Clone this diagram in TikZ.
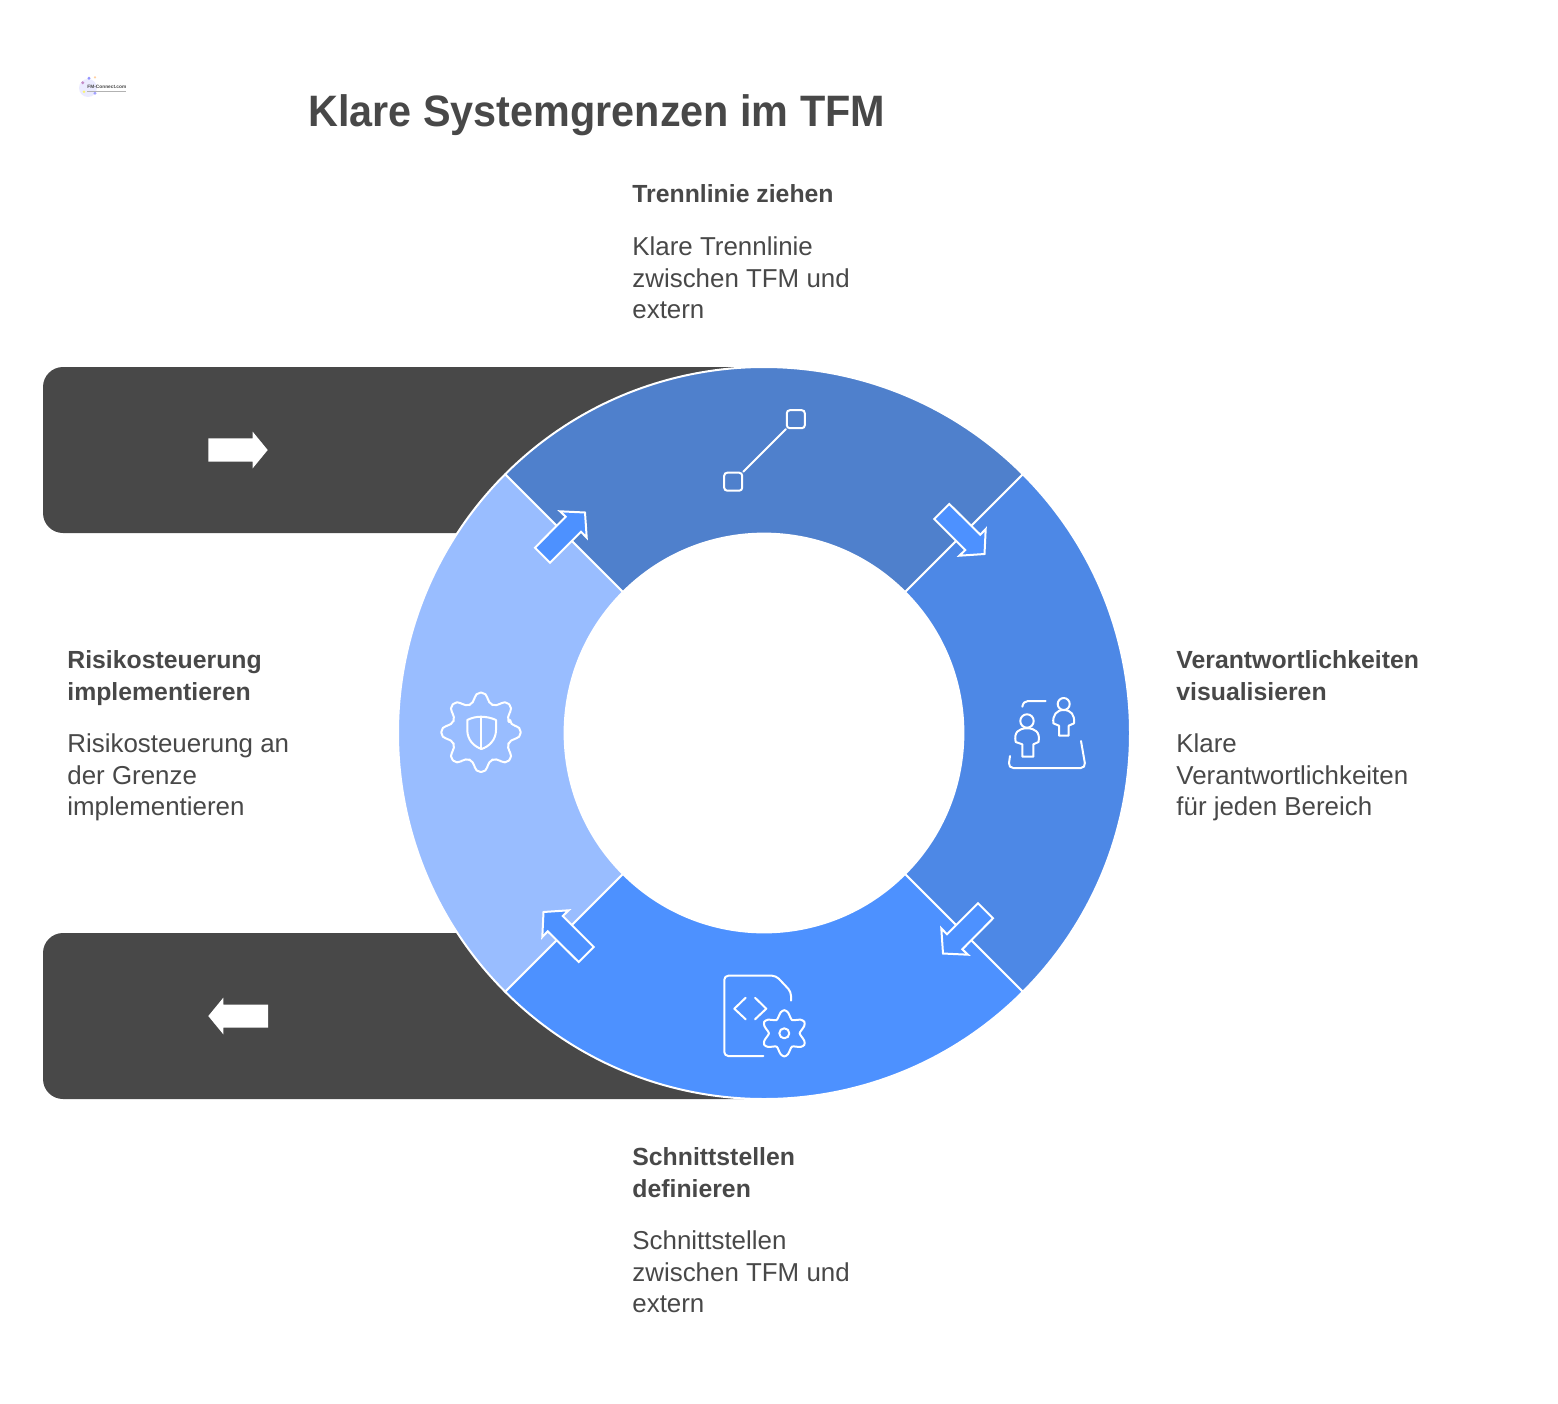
\documentclass[tikz,border=0pt]{standalone}
\usepackage{fontspec}
\setmainfont{Liberation Sans}
\newfontfamily\titlefont[FakeStretch=0.94,BoldFont={Liberation Sans Bold}]{Liberation Sans}
\definecolor{ink}{HTML}{484848}
\definecolor{bar}{HTML}{484848}
\definecolor{segA}{HTML}{4F80CC}
\definecolor{segB}{HTML}{4D88E6}
\definecolor{segC}{HTML}{4D91FF}
\definecolor{segD}{HTML}{99BDFF}
\tikzset{
  head/.style={anchor=north west,inner sep=0pt,align=left,text=ink,font=\fontsize{12.4}{15.75}\selectfont\bfseries},
  body/.style={anchor=north west,inner sep=0pt,align=left,text=ink,font=\fontsize{12.95}{15.75}\selectfont},
  seg/.style={draw=white,line width=1pt,line join=round},
  ico/.style={draw=white,line width=1pt,line cap=round,line join=round},
  blockarrow/.style={fill=segC,draw=white,line width=1pt,line join=miter},
  barshape/.style={fill=bar,rounded corners=10pt},
  square/.style={draw=white,line width=1pt,rounded corners=1.5pt,minimum size=9pt,inner sep=0pt}
}
\begin{document}
\begin{tikzpicture}[x=0.5pt,y=-0.5pt]
\useasboundingbox (0,0) rectangle (1558,1403);
% bars
\path[barshape] (43,367) -- (764,367) -- (764,533) -- (43,533) -- cycle;
\path[barshape] (43,933) -- (764,933) -- (764,1099) -- (43,1099) -- cycle;
\fill[white] (208.3,438.3) -- (252.7,438.3) -- (252.7,431.7) -- (267.7,450) -- (252.7,468.3) -- (252.7,461.7) -- (208.3,461.7) -- cycle;
\fill[white] (268,1004.5) -- (223.3,1004.5) -- (223.3,997.7) -- (208.3,1016) -- (223.3,1034.3) -- (223.3,1027.5) -- (268,1027.5) -- cycle;
% ring
\begin{scope}[shift={(764,733)},x=1pt,y=1pt]
\path[seg,fill=segD] (135:183) arc[start angle=135,end angle=225,radius=183] -- (225:99.7) arc[start angle=225,end angle=135,radius=99.7] -- cycle;
\path[seg,fill=segB] (-45:183) arc[start angle=-45,end angle=45,radius=183] -- (45:99.7) arc[start angle=45,end angle=-45,radius=99.7] -- cycle;
\path[seg,fill=segC] (225:183) arc[start angle=225,end angle=315,radius=183] -- (315:99.7) arc[start angle=315,end angle=225,radius=99.7] -- cycle;
\path[seg,fill=segA] (45:183) arc[start angle=45,end angle=135,radius=183] -- (135:99.7) arc[start angle=135,end angle=45,radius=99.7] -- cycle;
\end{scope}
% block arrows on the segment borders
\foreach \r in {0,-90,-180,-270}{
\begin{scope}[rotate around={\r:(764,733)}]
\path[blockarrow] (535,547.7) -- (565.7,516.7) -- (560,511.3) -- (585,512.5) -- (586.7,537.7) -- (581,531.7) -- (550,562.7) -- cycle;
\end{scope}}
% icon: line between two squares
\node[square] (sqa) at (795.8,419.2) {};
\node[square] (sqb) at (733.2,481.7) {};
\draw[ico] (sqa.south west) -- (sqb.north east);
% icon: people
\draw[ico] (1027,721) circle[radius=6.7];
\draw[ico] (1022.3,744.3) -- (1022.3,756.7) -- (1033.3,756.7) -- (1033.3,744.3) -- (1038.5,742) .. controls (1040.5,732) and (1035,728.3) .. (1027,728.3) .. controls (1019,728.3) and (1013.5,732) .. (1015.7,742) -- cycle;
\draw[ico] (1063.7,704) circle[radius=6];
\draw[ico] (1059,725.7) -- (1059,735.7) -- (1068.7,735.7) -- (1068.7,725.7) -- (1074,723.3) .. controls (1075,715) and (1071,710) .. (1063.7,710) .. controls (1056.5,710) and (1052.5,715) .. (1053.3,723.3) -- cycle;
\draw[ico] (1045.7,701) -- (1028,701) .. controls (1025,701) and (1023,703) .. (1022.3,706.7);
\draw[ico,rounded corners=2.5pt] (1010,756) -- (1008.3,768) -- (1085.7,768) -- (1081,741);
% icon: document with gear
\draw[ico,rounded corners=2pt] (791,1000.7) -- (791,991.7) -- (776,975.7) -- (724.3,975.7) -- (724.3,1056) -- (763.3,1056);
\draw[ico] (745.7,997.7) -- (734.3,1008.7) -- (745.7,1019.3);
\draw[ico] (755,997.7) -- (766.3,1008.7) -- (755,1019.3);
\draw[ico] plot[smooth cycle,samples=36,domain=0:350,variable=\t] ({784.3+(19.25+3.9*cos(6*\t+180))*cos(\t)},{1033.3+(19.25+3.9*cos(6*\t+180))*sin(\t)});
\draw[ico] (784.3,1033.3) circle[radius=5];
% icon: gear with shield
\begin{scope}[shift={(481,732.3)}]
\draw[ico,rounded corners=2.5pt] (-14:30) \foreach \a in {0,45,...,315}{ -- (\a-14:30) -- (\a-8:40) -- (\a+8:40) -- (\a+14:30) } -- cycle;
\end{scope}
\draw[ico] (481,716.7) .. controls (476,716.7) and (471,718) .. (467.3,720) -- (467.3,730) .. controls (467.3,740) and (474,746.5) .. (481.5,749) .. controls (489,746.5) and (496,740) .. (496,730) -- (496,720) .. controls (492,718) and (486,716.7) .. (481,716.7) -- cycle;
\draw[ico] (481.3,716.7) -- (481.3,749);
% logo
\fill[blue!8] (88,88) circle[radius=9];
\fill[violet!55,opacity=.8] (82.7,82.7) circle[radius=1.6];
\fill[blue!60,opacity=.7] (89,78.3) circle[radius=1.6];
\fill[orange!60,opacity=.6] (95,77.3) circle[radius=1.2];
\fill[yellow!70,opacity=.8] (84,91.7) circle[radius=1.3];
\fill[blue!50,opacity=.7] (95,93.3) circle[radius=1.6];
\node[inner sep=0pt,anchor=west,text=ink] (logo) at (87,87) {\fontsize{2.4}{3}\selectfont\bfseries FM-Connect.com};
\draw[gray!60,line width=0.5pt] (87,91.7) -- (126,91.7);
% texts
\node[anchor=base west,inner sep=0pt,text=ink] (title) at (308,126) {\fontsize{22}{26}\titlefont\bfseries Klare Systemgrenzen im TFM};
\node[head] (h1) at (632,184.5) {Trennlinie ziehen};
\node[body] (b1) at (632,236.5) {Klare Trennlinie\\zwischen TFM und\\extern};
\node[head] (h2) at (1176,650.5) {Verantwortlichkeiten\\visualisieren};
\node[body] (b2) at (1176,733.5) {Klare\\Verantwortlichkeiten\\für jeden Bereich};
\node[head] (h3) at (632,1147.5) {Schnittstellen\\definieren};
\node[body] (b3) at (632,1230.5) {Schnittstellen\\zwischen TFM und\\extern};
\node[head] (h4) at (67,650.5) {Risikosteuerung\\implementieren};
\node[body] (b4) at (67,733.5) {Risikosteuerung an\\der Grenze\\implementieren};
\end{tikzpicture}
\end{document}
